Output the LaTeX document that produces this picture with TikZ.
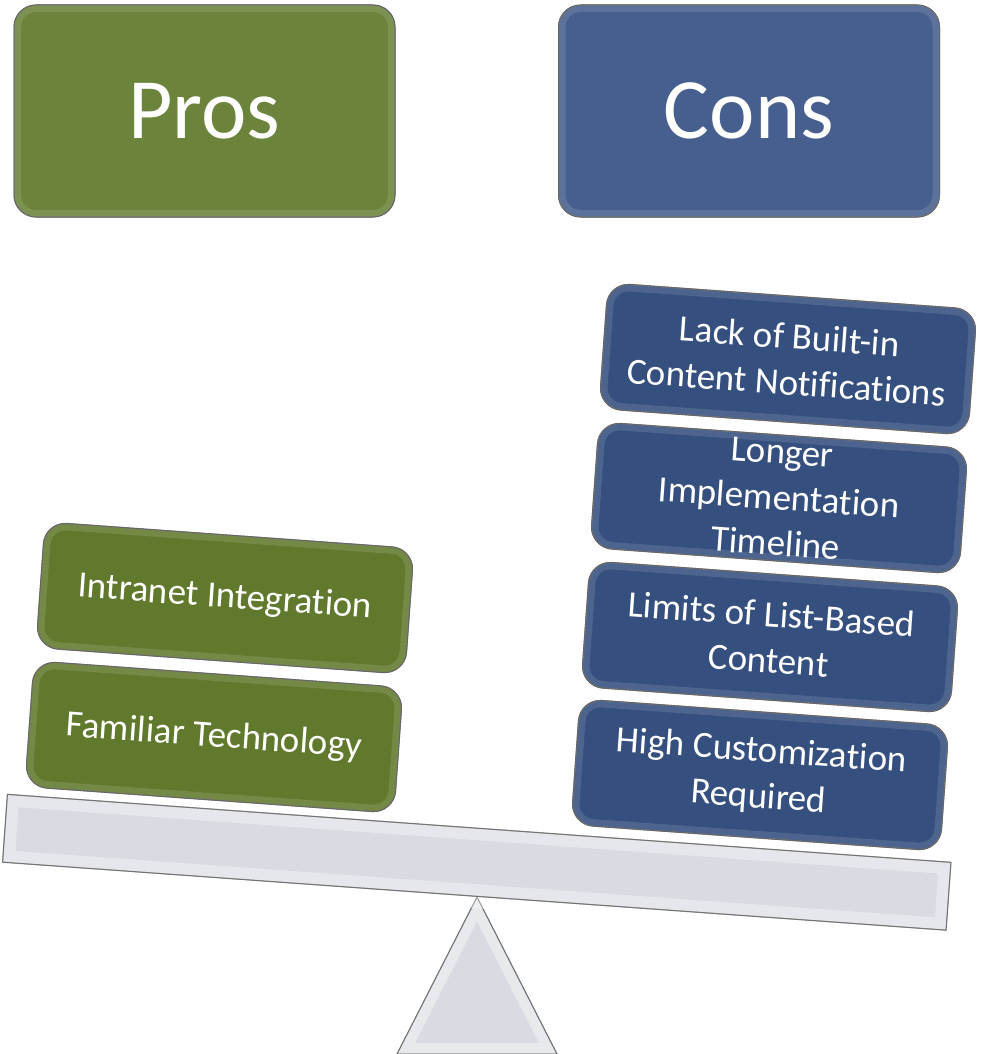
\documentclass[tikz,border=0pt]{standalone}
\usepackage{fontspec}
\setmainfont{Carlito}[Ligatures={NoCommon,NoContextual,NoRare}, Contextuals=NoAlternate]
\definecolor{prosgreen}{RGB}{107,131,59}
\definecolor{prositem}{RGB}{96,121,44}
\definecolor{consblue}{RGB}{70,95,142}
\definecolor{consitem}{RGB}{53,80,127}
\definecolor{beamgray}{RGB}{216,219,226}
\tikzset{
  slab/.style={rectangle, rounded corners=22pt, text=white, align=center, inner sep=0pt,
    draw=black!55, line width=1pt,
    postaction={draw=white, draw opacity=0.12, line width=14pt},
    postaction={draw=black!60, line width=1pt}},
  header/.style={slab, minimum width=381pt, minimum height=212pt, font=\fontsize{86}{90}\selectfont},
  item/.style={slab, minimum width=370pt, minimum height=126pt, rotate=-4.12, font=\fontsize{37}{46}\selectfont},
}
\begin{document}
\begin{tikzpicture}[x=1pt, y=-1pt]
    \useasboundingbox (0,0) rectangle (986,1054);

    % cabecalhos
    \node[header, fill=prosgreen] (pros) at (204.5,111) {Pros};
    \node[header, fill=consblue] (cons) at (749,111) {Cons};

    % apoio
    \coordinate (tip) at (477,897);
    \coordinate (footl) at (397,1054);
    \coordinate (footr) at (557,1054);
    \draw[fill=beamgray, draw=black!55, line width=1pt, line join=miter,
      postaction={draw=white, draw opacity=0.4, line width=22pt}]
      (tip) -- (footl) -- (footr) -- cycle;
    \draw[black!55, line width=1pt] (tip) -- (footl) -- (footr) -- cycle;

    % barra
    \node[rectangle, fill=beamgray, draw=black!55, line width=1pt, minimum width=946pt,
      minimum height=68pt, rotate=-4.12, inner sep=0pt,
      postaction={draw=white, draw opacity=0.35, line width=24pt},
      postaction={draw=black!55, line width=1pt}] (beam) at (476.75,862.25) {};

    % pros
    \node[item, fill=prositem] (intranet) at (225,598) {Intranet Integration};
    \node[item, fill=prositem] (familiar) at (214,737) {Familiar Technology};

    % cons
    \node[item, fill=consitem] (lack) at (788,359) {Lack of Built-in\\Content Notifications};
    \node[item, fill=consitem] (longer) at (779,498) {Longer\\Implementation\\Timeline};
    \node[item, fill=consitem] (limits) at (770,637) {Limits of List-Based\\Content};
    \node[item, fill=consitem] (custom) at (760,775) {High Customization\\Required};
\end{tikzpicture}
\end{document}
